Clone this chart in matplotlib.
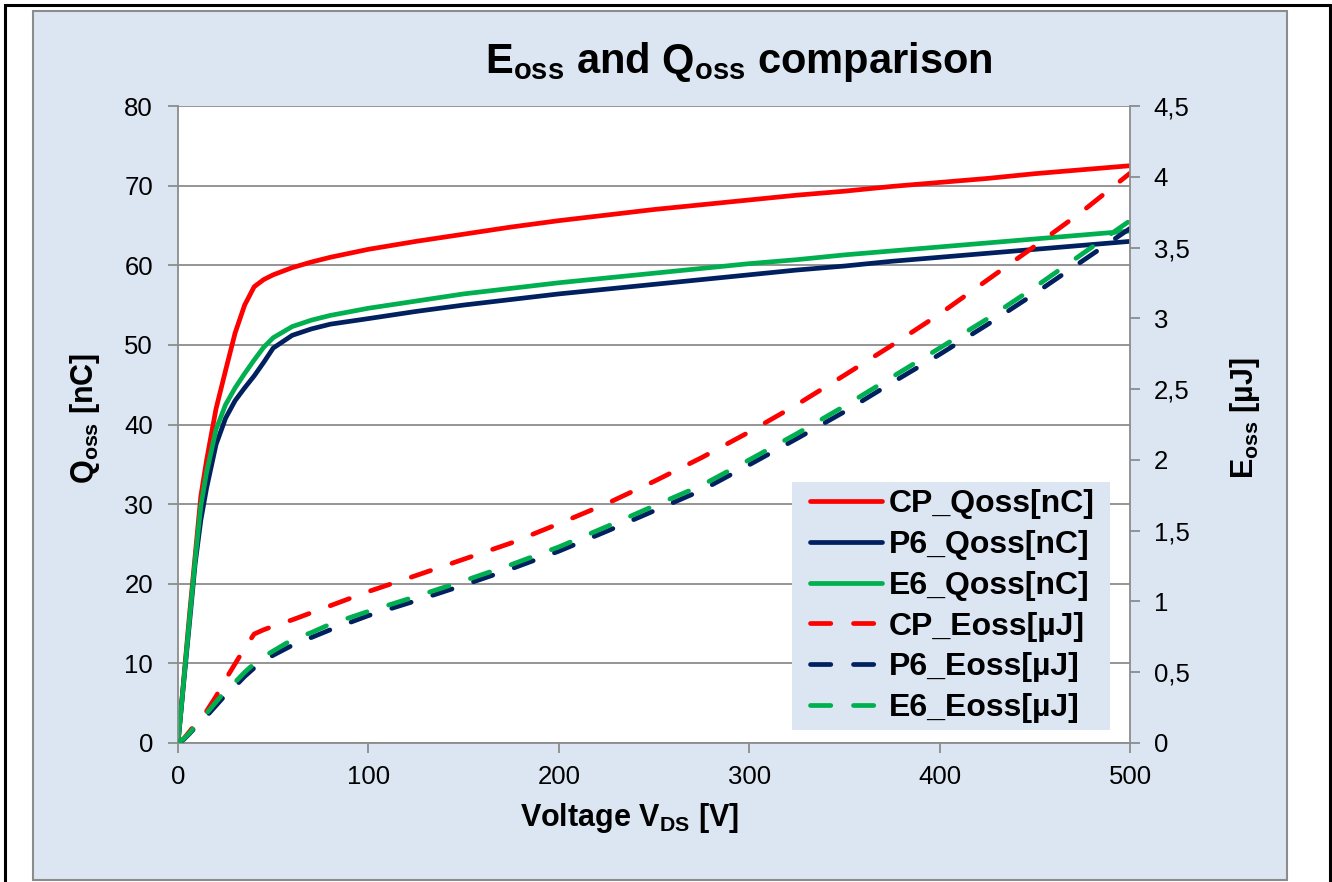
import matplotlib
matplotlib.use("Agg")
import matplotlib.pyplot as plt
from matplotlib.patches import Rectangle

# ---------------- data ----------------
voltage = [0, 3, 6, 9, 12, 15, 20, 25, 30, 35, 40, 45, 50, 60, 70, 80, 100,
           125, 150, 175, 200, 225, 250, 275, 300, 325, 350, 375, 400, 425,
           450, 475, 500]

cp_qoss = [0, 8, 16, 23.5, 31, 35.5, 42, 46.8, 51.5, 55.0, 57.3, 58.2, 58.8,
           59.7, 60.4, 61.0, 62.0, 63.0, 63.9, 64.8, 65.6, 66.3, 67.0, 67.6,
           68.2, 68.8, 69.3, 69.9, 70.4, 70.9, 71.5, 72.0, 72.5]
p6_qoss = [0, 7.6, 15, 22.5, 28.0, 32.0, 37.5, 40.8, 43.0, 44.6, 46.1, 47.8,
           49.6, 51.2, 52.0, 52.6, 53.3, 54.2, 55.0, 55.7, 56.4, 57.0, 57.6,
           58.2, 58.8, 59.4, 59.9, 60.5, 61.0, 61.5, 62.0, 62.5, 63.0]
e6_qoss = [0, 7.8, 15.5, 23, 29.8, 34.0, 39.4, 42.5, 44.6, 46.4, 48.1, 49.7,
           50.9, 52.3, 53.1, 53.7, 54.6, 55.5, 56.4, 57.1, 57.8, 58.4, 59.0,
           59.6, 60.2, 60.7, 61.3, 61.8, 62.3, 62.8, 63.3, 63.8, 64.3]

cp_eoss = [0, 0.03, 0.08, 0.13, 0.18, 0.225, 0.33, 0.45, 0.56, 0.67, 0.77,
           0.80, 0.825, 0.87, 0.92, 0.97, 1.07, 1.183, 1.298, 1.413, 1.549,
           1.69, 1.848, 2.016, 2.197, 2.39, 2.598, 2.81, 3.03, 3.27, 3.51,
           3.756, 4.025]
p6_eoss = [0, 0.025, 0.065, 0.11, 0.15, 0.19, 0.265, 0.34, 0.40, 0.47, 0.53,
           0.58, 0.62, 0.69, 0.745, 0.80, 0.90, 1.005, 1.115, 1.23, 1.355,
           1.495, 1.64, 1.785, 1.965, 2.15, 2.34, 2.545, 2.745, 2.955, 3.175,
           3.405, 3.635]
e6_eoss = [0, 0.03, 0.07, 0.12, 0.165, 0.21, 0.29, 0.37, 0.43, 0.50, 0.56,
           0.61, 0.65, 0.73, 0.78, 0.84, 0.93, 1.035, 1.145, 1.26, 1.385,
           1.528, 1.675, 1.82, 2.00, 2.185, 2.38, 2.585, 2.79, 2.996, 3.22,
           3.456, 3.69]

series_names = ["CP_Qoss[nC]", "P6_Qoss[nC]", "E6_Qoss[nC]",
                "CP_Eoss[µJ]", "P6_Eoss[µJ]", "E6_Eoss[µJ]"]

x_ticks = [0, 100, 200, 300, 400, 500]
q_ticks = [0, 10, 20, 30, 40, 50, 60, 70, 80]
e_ticks = [0, 0.5, 1, 1.5, 2, 2.5, 3, 3.5, 4, 4.5]
e_tick_labels = ["0", "0,5", "1", "1,5", "2", "2,5", "3", "3,5", "4", "4,5"]

# ---------------- style ----------------
plt.rcParams["font.family"] = ["Liberation Sans", "DejaVu Sans"]
plt.rcParams["mathtext.fontset"] = "custom"
plt.rcParams["mathtext.rm"] = "Liberation Sans"
plt.rcParams["mathtext.bf"] = "Liberation Sans:bold"
plt.rcParams["mathtext.it"] = "Liberation Sans:italic"

RED = "#ff0000"
NAVY = "#002060"
GREEN = "#00b050"
BG = "#dce6f2"
GRID = "#8c8c8c"

W, H = 1332, 882
fig = plt.figure(figsize=(W / 100, H / 100), dpi=100)
fig.patch.set_facecolor("white")

# chart area background and outer frame
fig.add_artist(Rectangle((33 / W, 1 - 880 / H), (1287 - 33) / W, (880 - 11) / H,
                         transform=fig.transFigure, facecolor=BG,
                         edgecolor="#8c8c8c", lw=1.5, zorder=0))
fig.add_artist(Rectangle((5 / W, -0.02), (1330 - 5) / W, 1 - 5 / H + 0.02,
                         transform=fig.transFigure, facecolor="none",
                         edgecolor="black", lw=2.2, zorder=0))

AX_L, AX_T, AX_R, AX_B = 178, 106, 1130, 743
ax = fig.add_axes([AX_L / W, 1 - AX_B / H, (AX_R - AX_L) / W, (AX_B - AX_T) / H])
ax.set_facecolor("white")
ax2 = ax.twinx()

lw = 3.4
l1, = ax.plot(voltage, cp_qoss, color=RED, lw=lw, solid_capstyle="round")
l2, = ax.plot(voltage, p6_qoss, color=NAVY, lw=lw, solid_capstyle="round")
l3, = ax.plot(voltage, e6_qoss, color=GREEN, lw=lw, solid_capstyle="round")
ds = (0, (4.3, 4.8))
l4, = ax2.plot(voltage, cp_eoss, color=RED, lw=lw, ls=ds, dash_capstyle="round")
l5, = ax2.plot(voltage, p6_eoss, color=NAVY, lw=lw, ls=ds, dash_capstyle="round")
l6, = ax2.plot(voltage, e6_eoss, color=GREEN, lw=lw, ls=ds, dash_capstyle="round")

ax.set_xlim(0, 500)
ax.set_ylim(0, 80)
ax2.set_ylim(0, 4.5)
ax.set_xticks(x_ticks)
ax.set_yticks(q_ticks)
ax2.set_yticks(e_ticks)
ax2.set_yticklabels(e_tick_labels)

ax.grid(axis="y", color=GRID, lw=1.3)
ax.set_axisbelow(True)

for s in ["top", "right"]:
    ax.spines[s].set_visible(False)
for s in ["top", "left", "bottom"]:
    ax2.spines[s].set_visible(False)
for s in ["left", "bottom"]:
    ax.spines[s].set_color(GRID)
    ax.spines[s].set_linewidth(1.3)
ax2.spines["right"].set_color(GRID)
ax2.spines["right"].set_linewidth(1.3)

ax.tick_params(axis="y", direction="out", length=7, width=1.3, color=GRID,
               labelsize=18.5, pad=11)
ax.tick_params(axis="x", direction="out", length=7, width=1.3, color=GRID,
               labelsize=18.5, pad=9)
ax2.tick_params(axis="y", direction="out", length=7, width=1.3, color=GRID,
                labelsize=18.5, pad=10)

# titles / labels
fig.text(739 / W, 1 - 62 / H, r"$\mathbf{E_{oss}}$ and $\mathbf{Q_{oss}}$ comparison",
         ha="center", va="center", fontsize=30, fontweight="bold")
fig.text(630 / W, 1 - 818 / H, r"Voltage V$\mathbf{_{DS}}$ [V]",
         ha="center", va="center", fontsize=22, fontweight="bold")
fig.text(85 / W, 1 - 418 / H, r"$\mathbf{Q_{oss}}$ [nC]", rotation=90,
         ha="center", va="center", fontsize=22, fontweight="bold")
fig.text(1245 / W, 1 - 418 / H, r"$\mathbf{E_{oss}}$ [µJ]", rotation=90,
         ha="center", va="center", fontsize=22, fontweight="bold")

# legend background box (plain box, no border)
lx0 = (792 - AX_L) / (AX_R - AX_L)
ly0 = (AX_B - 730) / (AX_B - AX_T)
lw_box = (1110 - 792) / (AX_R - AX_L)
lh_box = (730 - 482) / (AX_B - AX_T)
ax2.add_patch(Rectangle((lx0, ly0), lw_box, lh_box, transform=ax2.transAxes,
                        facecolor=BG, edgecolor="none", zorder=4))

leg = ax2.legend([l1, l2, l3, l4, l5, l6], series_names,
                 loc="upper left",
                 bbox_to_anchor=((810 - AX_L) / (AX_R - AX_L),
                                 (AX_B - 489) / (AX_B - AX_T)),
                 prop={"weight": "bold", "size": 23},
                 frameon=False,
                 handlelength=2.25, handletextpad=0.22, labelspacing=0.34,
                 borderpad=0, borderaxespad=0)
leg.set_zorder(5)

fig.savefig("out.png", dpi=100, facecolor=fig.get_facecolor())
